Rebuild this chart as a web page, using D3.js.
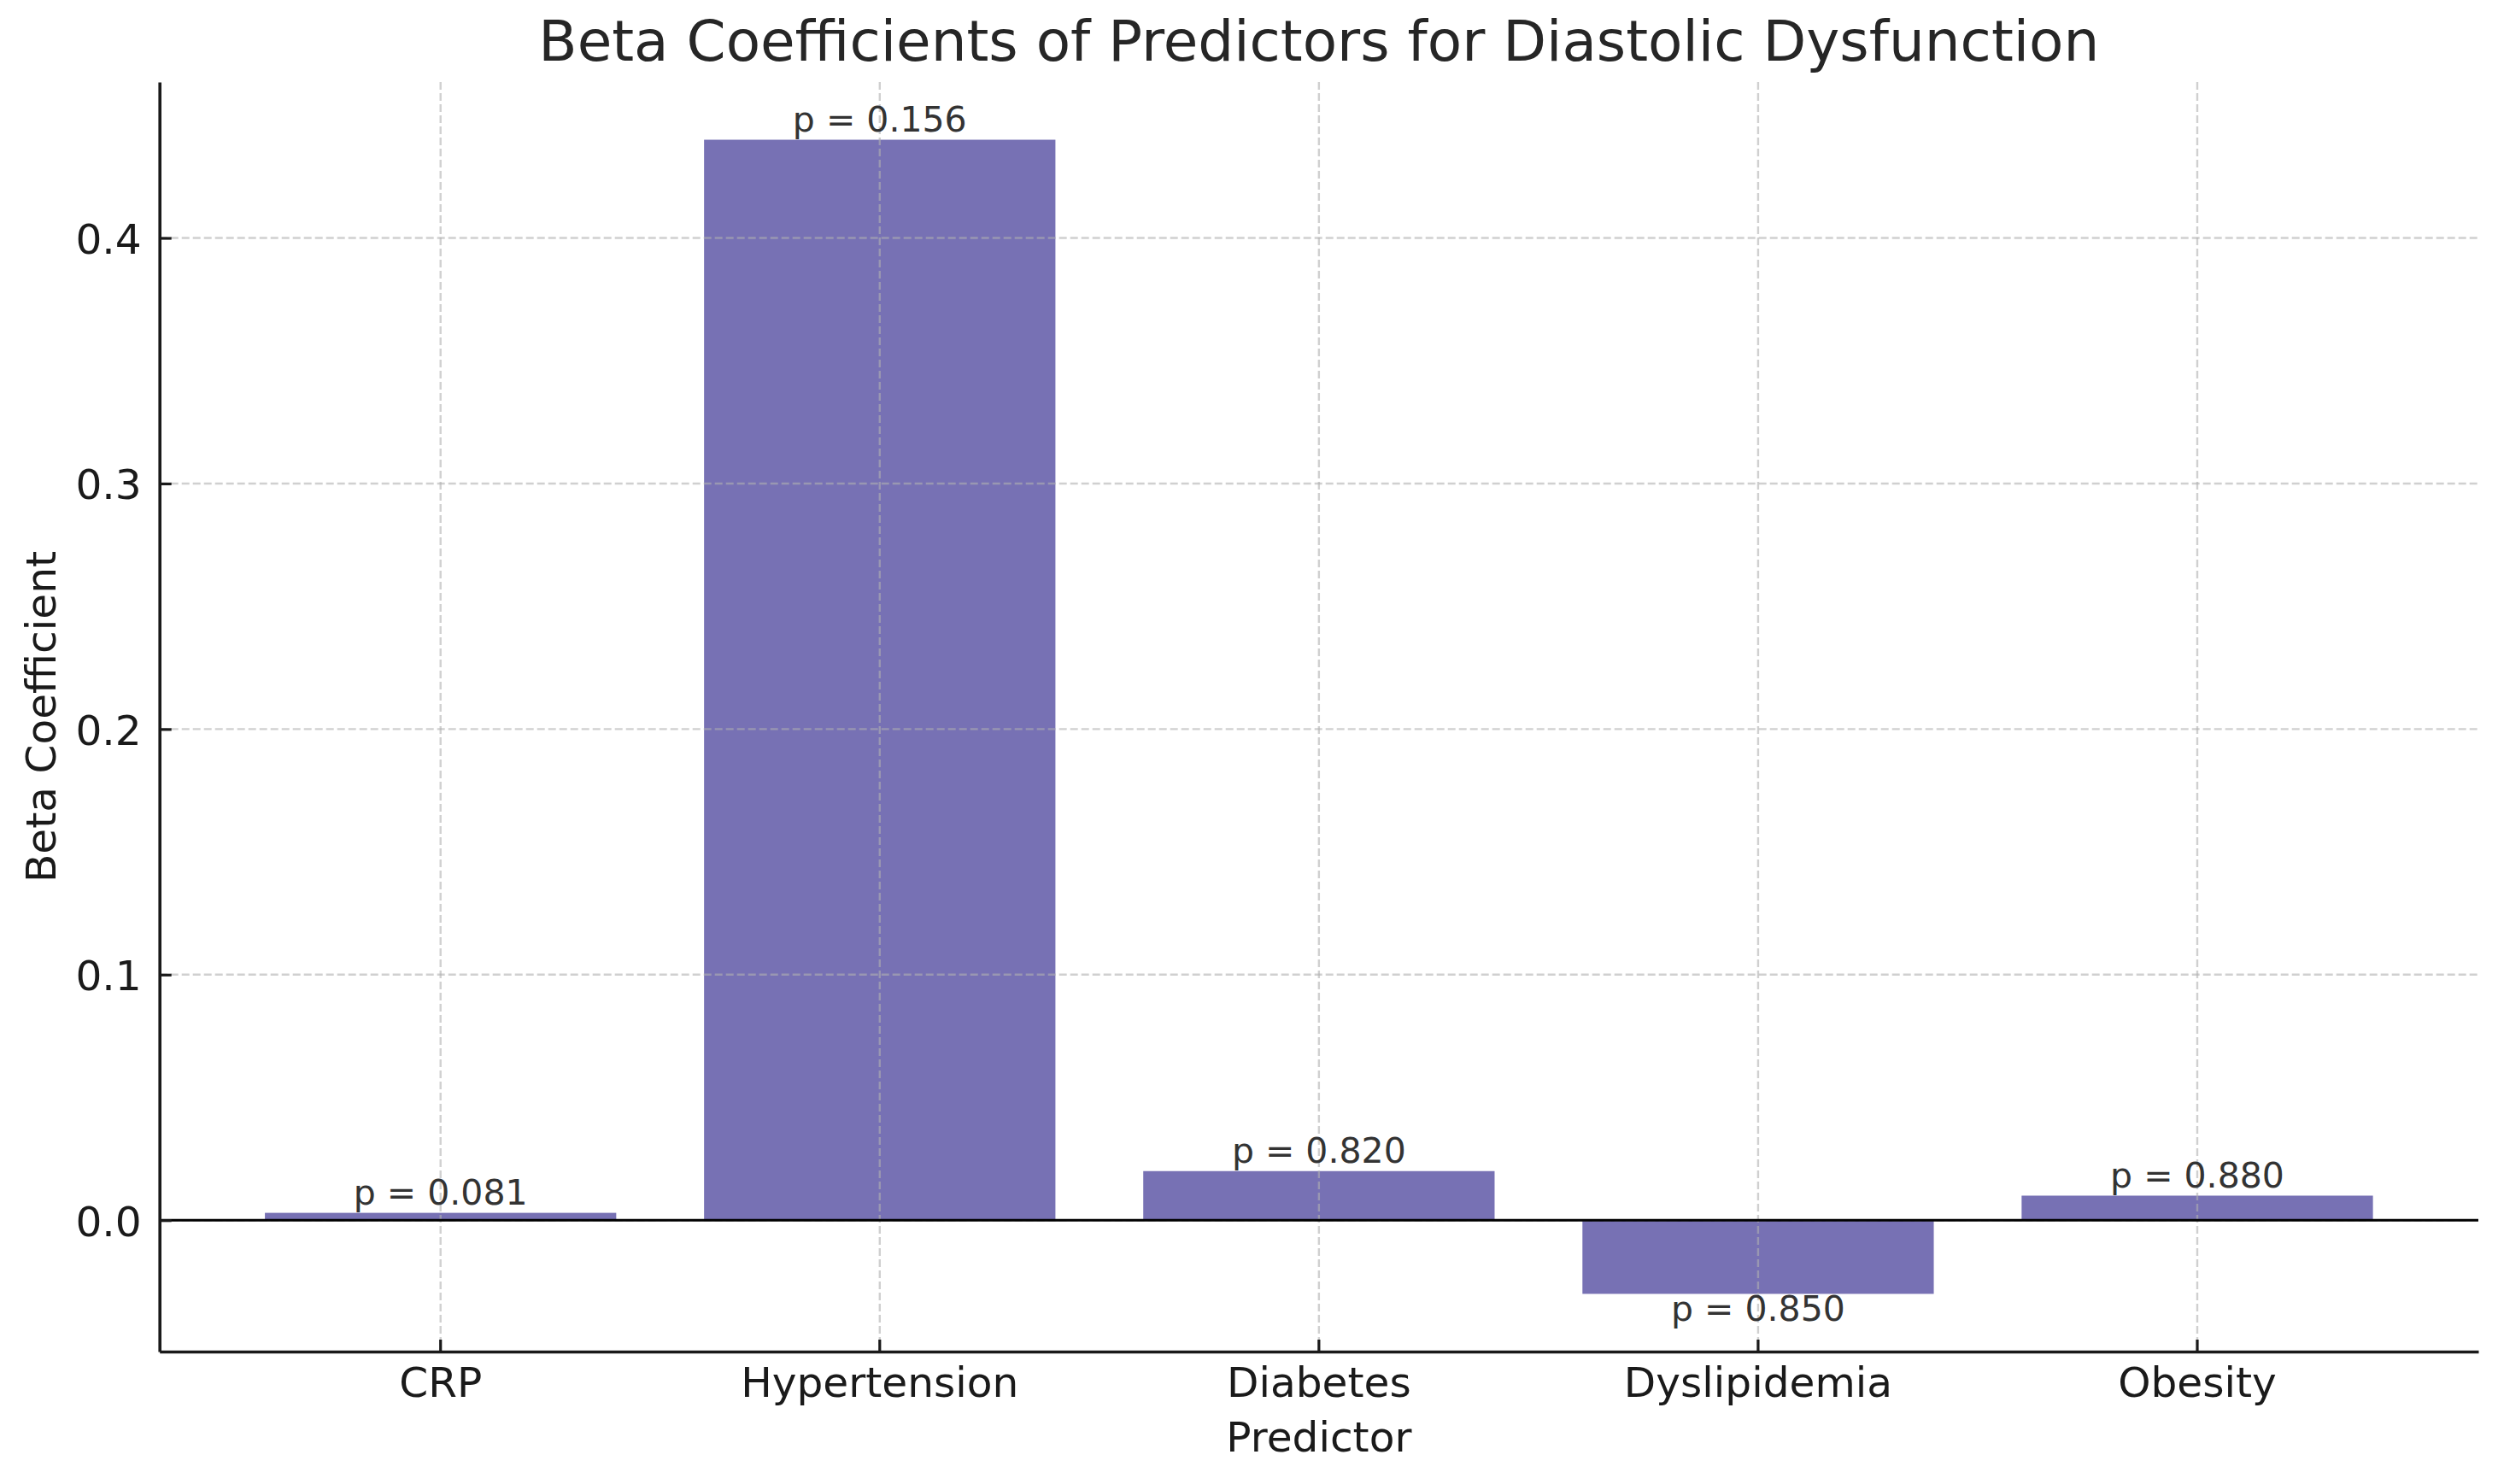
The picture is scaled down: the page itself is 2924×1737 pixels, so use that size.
<!DOCTYPE html>
<html>
<head>
<meta charset="utf-8">
<script src="https://cdn.jsdelivr.net/npm/d3@7"></script>
<style>
  html, body { margin: 0; padding: 0; background: #ffffff; }
  svg { display: block; }
  text { font-family: "DejaVu Sans", sans-serif; }
</style>
</head>
<body>
<svg id="chart" width="2924" height="1737"></svg>
<script>
// ---- data ----
const predictors = ["CRP", "Hypertension", "Diabetes", "Dyslipidemia", "Obesity"];
const betaValues = [0.003, 0.44, 0.02, -0.03, 0.01];
const pLabels = ["p = 0.081", "p = 0.156", "p = 0.820", "p = 0.850", "p = 0.880"];
const yTickValues = [0.0, 0.1, 0.2, 0.3, 0.4];

const titleText = "Beta Coefficients of Predictors for Diastolic Dysfunction";
const xLabelText = "Predictor";
const yLabelText = "Beta Coefficient";

(function () {
  // ---- layout ----
  const W = 2924, H = 1737;
  const mLeft = 186.7, mRight = 2901, mTop = 96, mBottom = 1582;
  const barColor = "#7771b4";

  const svg = d3.select("#chart");
  svg.append("rect").attr("width", W).attr("height", H).attr("fill", "#fff");

  const lo = Math.min(0, d3.min(betaValues));
  const hi = Math.max(0, d3.max(betaValues));
  const pad = 0.05 * (hi - lo);

  const x = d3.scaleBand().domain(predictors).range([mLeft, mRight])
    .paddingInner(0.2).paddingOuter(0.24);
  const y = d3.scaleLinear().domain([lo - pad, hi + pad]).range([mBottom, mTop]);

  // bars
  svg.append("g").selectAll("rect").data(predictors).join("rect")
    .attr("x", d => x(d))
    .attr("width", x.bandwidth())
    .attr("y", (d, i) => y(Math.max(0, betaValues[i])))
    .attr("height", (d, i) => Math.abs(y(betaValues[i]) - y(0)))
    .attr("fill", barColor);

  // grid (drawn above bars)
  const grid = svg.append("g").attr("stroke", "#b0b0b0").attr("stroke-opacity", 0.6)
    .attr("stroke-width", 2.4).attr("stroke-dasharray", "9,4").attr("fill", "none");
  grid.selectAll("line.h").data(yTickValues).join("line").attr("class", "h")
    .attr("x1", mLeft).attr("x2", mRight)
    .attr("y1", d => y(d)).attr("y2", d => y(d));
  grid.selectAll("line.v").data(predictors).join("line").attr("class", "v")
    .attr("x1", d => x(d) + x.bandwidth() / 2).attr("x2", d => x(d) + x.bandwidth() / 2)
    .attr("y1", mTop).attr("y2", mBottom);

  // zero line
  svg.append("line")
    .attr("x1", mLeft).attr("x2", mRight)
    .attr("y1", y(0)).attr("y2", y(0))
    .attr("stroke", "#000").attr("stroke-width", 2.9);

  // p-value labels
  svg.append("g").selectAll("text").data(predictors).join("text")
    .attr("x", d => x(d) + x.bandwidth() / 2)
    .attr("y", (d, i) => betaValues[i] >= 0 ? y(betaValues[i]) - 9.5 : y(betaValues[i]) + 31.5)
    .attr("text-anchor", "middle")
    .attr("font-size", 41)
    .attr("fill", "#333")
    .text((d, i) => pLabels[i]);

  // y axis
  const yAxis = d3.axisLeft(y).tickValues(yTickValues).tickFormat(d3.format(".1f"))
    .tickSizeInner(-14).tickSizeOuter(0).tickPadding(21);
  const gy = svg.append("g").attr("transform", `translate(${mLeft},0)`).call(yAxis);
  gy.select(".domain").attr("stroke", "#1a1a1a").attr("stroke-width", 3.6);
  gy.selectAll(".tick line").attr("stroke", "#1a1a1a").attr("stroke-width", 3.2);
  gy.selectAll(".tick text").attr("font-size", 48.6).attr("fill", "#1a1a1a")
    .attr("font-family", "DejaVu Sans").attr("dy", "0.37em");

  // x axis
  const xAxis = d3.axisBottom(x).tickSizeInner(-14).tickSizeOuter(0).tickPadding(18.5);
  const gx = svg.append("g").attr("transform", `translate(0,${mBottom})`).call(xAxis);
  gx.select(".domain").attr("stroke", "#1a1a1a").attr("stroke-width", 3.6);
  gx.selectAll(".tick line").attr("stroke", "#1a1a1a").attr("stroke-width", 3.2);
  gx.selectAll(".tick text").attr("font-size", 48.6).attr("fill", "#1a1a1a")
    .attr("font-family", "DejaVu Sans").attr("dy", "0.71em");

  // title
  svg.append("text")
    .attr("x", (mLeft + mRight) / 2).attr("y", 71)
    .attr("text-anchor", "middle").attr("font-size", 66).attr("fill", "#262626")
    .text(titleText);

  // axis labels
  svg.append("text")
    .attr("x", (mLeft + mRight) / 2).attr("y", 1699)
    .attr("text-anchor", "middle").attr("font-size", 48.6).attr("fill", "#1a1a1a")
    .text(xLabelText);

  svg.append("text")
    .attr("transform", `translate(65,${(mTop + mBottom) / 2}) rotate(-90)`)
    .attr("text-anchor", "middle").attr("font-size", 48.6).attr("fill", "#1a1a1a")
    .text(yLabelText);
})();
</script>
</body>
</html>
